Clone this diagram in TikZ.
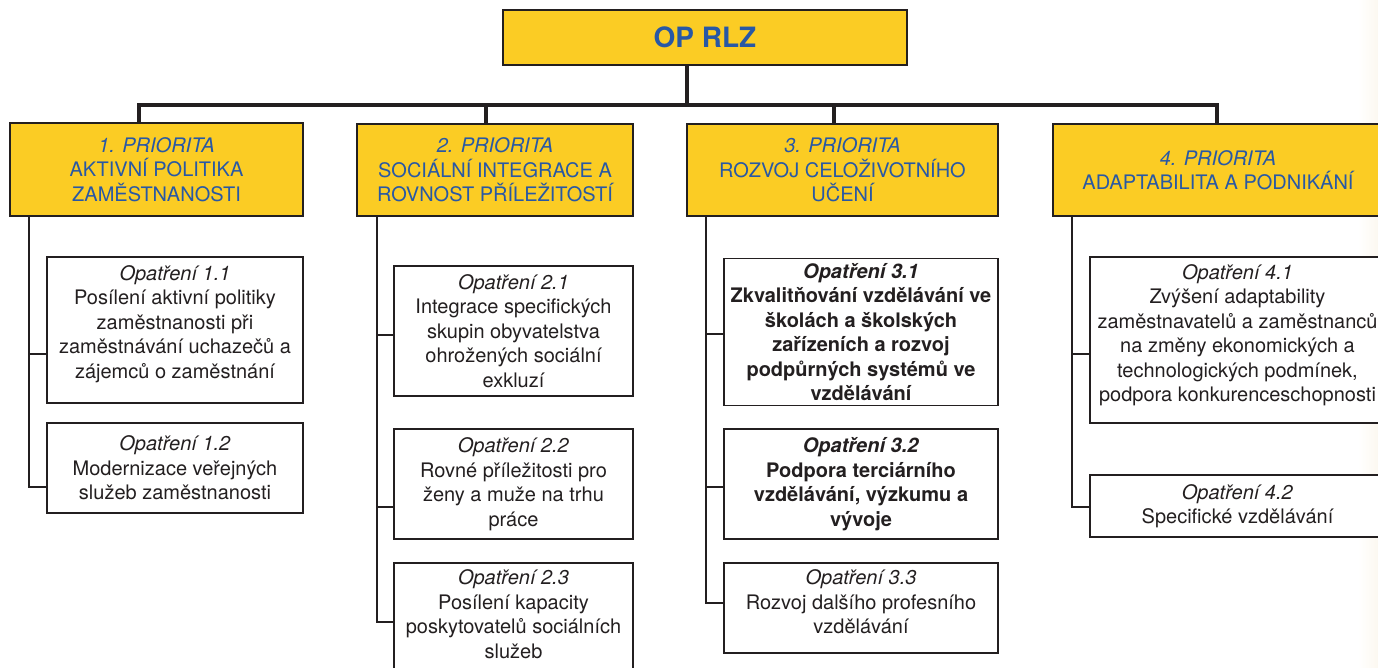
\documentclass[tikz,border=0pt]{standalone}
\usepackage{fontspec}
\setmainfont{TeX Gyre Heros}
\definecolor{yel}{HTML}{FBCC24}
\definecolor{blu}{HTML}{2858A5}
\definecolor{ink}{HTML}{231F20}
\definecolor{cream}{HTML}{FCF8F0}
\tikzset{
  prio/.style={draw=ink, line width=2.2pt, fill=yel, text=blu, align=center, inner sep=2pt,
    font=\fontsize{20}{24.5}\selectfont},
  topbox/.style={draw=ink, line width=2.2pt, fill=yel, text=blu, inner sep=2pt,
    font=\fontsize{28}{32}\selectfont\bfseries},
  opbox/.style={draw=ink, line width=1.8pt, fill=white, text=ink, align=center, inner sep=2pt,
    font=\fontsize{20}{24.5}\selectfont},
  opboxb/.style={opbox, font=\fontsize{20}{24.5}\selectfont\bfseries},
  optext/.style={text=ink, align=center, inner sep=2pt, font=\fontsize{20}{24.5}\selectfont},
  bus/.style={draw=ink, line width=3.8pt},
  conn/.style={draw=ink, line width=2.2pt},
}
\begin{document}
\begin{tikzpicture}[x=1pt,y=-1pt]
\useasboundingbox (0,0) rectangle (1378,668);
\clip (0,0) rectangle (1378,668);
\shade[left color=white, right color=cream] (1358,0) rectangle (1378,668);

% top
\node[topbox, minimum width=404, minimum height=55] (top) at (705,37.5) {OP RLZ};

% priorities
\node[prio, minimum width=293, minimum height=93] (p1) at (156.5,169.5)
  {\textit{1. PRIORITA}\\AKTIVNÍ POLITIKA\\ZAMĚSTNANOSTI};
\node[prio, minimum width=276, minimum height=92] (p2) at (495,170)
  {\textit{2. PRIORITA}\\SOCIÁLNÍ INTEGRACE A\\ROVNOST PŘÍLEŽITOSTÍ};
\node[prio, minimum width=311, minimum height=92] (p3) at (842.5,170)
  {\textit{3. PRIORITA}\\ROZVOJ CELOŽIVOTNÍHO\\UČENÍ};
\node[prio, minimum width=330, minimum height=92] (p4) at (1218,170)
  {\textit{4. PRIORITA}\\ADAPTABILITA A PODNIKÁNÍ};

% measures
\node[opbox, minimum width=256, minimum height=146] (b11) at (175,330) {};
\node[optext] (t11) at ([yshift=6pt]b11.center)
  {\textit{Opatření 1.1}\\Posílení aktivní politiky\\zaměstnanosti při\\zaměstnávání uchazečů a\\zájemců o zaměstnání};
\node[opbox, minimum width=256, minimum height=90] (b12) at (175,468)
  {\textit{Opatření 1.2}\\Modernizace veřejných\\služeb zaměstnanosti};
\node[opbox, minimum width=239, minimum height=130] (b21) at (513.5,331)
  {\textit{Opatření 2.1}\\Integrace specifických\\skupin obyvatelstva\\ohrožených sociální\\exkluzí};
\node[opbox, minimum width=239, minimum height=110] (b22) at (513.5,484)
  {\textit{Opatření 2.2}\\Rovné příležitosti pro\\ženy a muže na trhu\\práce};
\node[opbox, minimum width=239, minimum height=110] (b23) at (513.5,618) {};
\node[optext] (t23) at ([yshift=4pt]b23.center)
  {\textit{Opatření 2.3}\\Posílení kapacity\\poskytovatelů sociálních\\služeb};
\node[opboxb, minimum width=274, minimum height=147] (b31) at (861,332)
  {\textit{Opatření 3.1}\\Zkvalitňování vzdělávání ve\\školách a školských\\zařízeních a rozvoj\\podpůrných systémů ve\\vzdělávání};
\node[opboxb, minimum width=274, minimum height=110] (b32) at (861,484)
  {\textit{Opatření 3.2}\\Podpora terciárního\\vzdělávání, výzkumu a\\vývoje};
\node[opbox, minimum width=274, minimum height=90] (b33) at (861,608) {};
\node[optext] (t33) at ([yshift=6pt]b33.center)
  {\textit{Opatření 3.3}\\Rozvoj dalšího profesního\\vzdělávání};
\node[opbox, minimum width=295, minimum height=166] (b41) at (1237.5,340) {};
\node[optext] (t41) at ([yshift=5pt]b41.center)
  {\textit{Opatření 4.1}\\Zvýšení adaptability\\zaměstnavatelů a zaměstnanců\\na změny ekonomických a\\technologických podmínek,\\podpora konkurenceschopnosti};
\node[opbox, minimum width=295, minimum height=62] (b42) at (1237.5,506)
  {\textit{Opatření 4.2}\\Specifické vzdělávání};

% bus
\coordinate (busL) at (139,105);
\coordinate (busR) at (1217,105);
\draw[bus] ([xshift=-18pt]top.south) -- ([xshift=-18pt]top.south |- busL);
\draw[bus] ([xshift=-17.5pt]p1.north) |- (busR) -- ([xshift=-1pt]p4.north);
\draw[bus] ([xshift=-9pt]p2.north) -- ([xshift=-9pt]p2.north |- busL);
\draw[bus] ([xshift=-8.5pt]p3.north) -- ([xshift=-8.5pt]p3.north |- busL);

% spines
\coordinate (s1) at (29,0);
\coordinate (s2) at (377,0);
\coordinate (s3) at (706,0);
\coordinate (s4) at (1072,0);
\draw[conn] (s1 |- p1.south) |- ([yshift=-19pt]b12.west);
\draw[conn] ([yshift=-24pt]b11.west) -- ++(-18,0);
\draw[conn] (s2 |- p2.south) |- ([yshift=-4pt]b23.west);
\draw[conn] ([yshift=-4pt]b21.west) -- ++(-17,0);
\draw[conn] ([yshift=-23pt]b22.west) -- ++(-17,0);
\draw[conn] (s3 |- p3.south) |- ([yshift=5pt]b33.west);
\draw[conn] ([yshift=-2pt]b31.west) -- ++(-18,0);
\draw[conn] ([yshift=-3pt]b32.west) -- ++(-18,0);
\draw[conn] (s4 |- p4.south) |- ([yshift=-1pt]b42.west);
\draw[conn] ([yshift=-14pt]b41.west) -- ++(-18,0);
\end{tikzpicture}
\end{document}
